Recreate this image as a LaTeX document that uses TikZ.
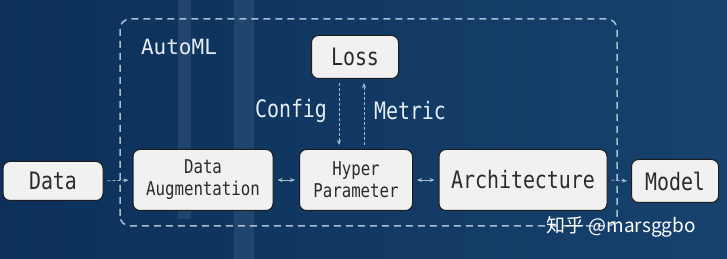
\documentclass[tikz,border=0pt]{standalone}
\usepackage{fontspec}
\usepackage{xcolor}
\usetikzlibrary{arrows.meta,positioning}
\newfontfamily\boxfont[FakeStretch=0.83]{DejaVu Sans Mono}
\newfontfamily\labelfont{DejaVu Sans Mono}
\newfontfamily\markfont{Noto Sans CJK SC}
\definecolor{bgleft}{HTML}{0C3059}
\definecolor{bgright}{HTML}{17426E}
\definecolor{band}{HTML}{7F9CBB}
\definecolor{boxfill}{HTML}{F1F1F1}
\definecolor{boxline}{HTML}{1C1C1C}
\definecolor{ink}{HTML}{2B2B2B}
\definecolor{dash}{HTML}{A9BED3}
\definecolor{pale}{HTML}{E6EDF4}
\tikzset{
  block/.style={draw=boxline, fill=boxfill, rounded corners=7pt, line width=1pt,
                align=center, inner sep=0pt, text=ink},
  bigtext/.style={font=\boxfont\fontsize{24}{28}\selectfont},
  smalltext/.style={font=\boxfont\fontsize{19}{22}\selectfont},
  flow/.style={-{Stealth[length=5pt,width=4pt]}, draw=dash, line width=0.8pt,
               dash pattern=on 3pt off 2pt, shorten >=4pt, shorten <=4pt},
  link/.style={{Stealth[length=5pt,width=4pt]}-{Stealth[length=5pt,width=4pt]},
               draw=dash, line width=0.8pt, shorten >=4pt, shorten <=4pt},
  tag/.style={text=pale, font=\boxfont\fontsize{24}{28}\selectfont}
}
\begin{document}
\begin{tikzpicture}[x=1pt,y=1pt]
  % background
  \shade[left color=bgleft, right color=bgright] (0,0) rectangle (727,259);
  \fill[band, opacity=0.16] (178,40) rectangle (191,259);
  \fill[band, opacity=0.16] (234,0) rectangle (254,259);
  \useasboundingbox (0,0) rectangle (727,259);

  % AutoML frame
  \draw[draw=dash, line width=1.5pt, dash pattern=on 7pt off 5pt, rounded corners=10pt]
    (120,33) rectangle (617,240);
  \node[font=\labelfont\fontsize{21}{24}\selectfont, text=pale] (automl) at (179,212) {AutoML};

  % blocks
  \node[block, bigtext, minimum width=100pt, minimum height=39pt] (data) at (53,78) {Data};
  \node[block, smalltext, minimum width=140pt, minimum height=61pt] (aug) at (203,79) {Data\\Augmentation};
  \node[block, smalltext, minimum width=113pt, minimum height=61pt] (hyper) at (356,79) {Hyper\\Parameter};
  \node[block, bigtext, minimum width=87pt, minimum height=43pt] (loss) at (355,202) {Loss};
  \node[block, bigtext, minimum width=168pt, minimum height=61pt] (arch) at (523,79) {Architecture};
  \node[block, bigtext, minimum width=87pt, minimum height=43pt] (model) at (675,78) {Model};

  % feedback labels
  \node[tag] (config) at (291,148) {Config};
  \node[tag] (metric) at (410,148) {Metric};

  % connectors
  \draw[flow] (data.east) -- (aug.west);
  \draw[link] (aug.east) -- (hyper.west);
  \draw[link] (hyper.east) -- (arch.west);
  \draw[flow] (arch.east) -- (model.west);
  \draw[flow] ([xshift=-16pt]loss.south) -- ([xshift=-17pt]hyper.north);
  \draw[flow] ([xshift=8pt]hyper.north) -- ([xshift=9pt]loss.south);

  % watermark
  \node[font=\markfont\fontsize{19}{22}\selectfont, text=white] (mark) at (621,32) {知乎 @marsggbo};
\end{tikzpicture}
\end{document}
